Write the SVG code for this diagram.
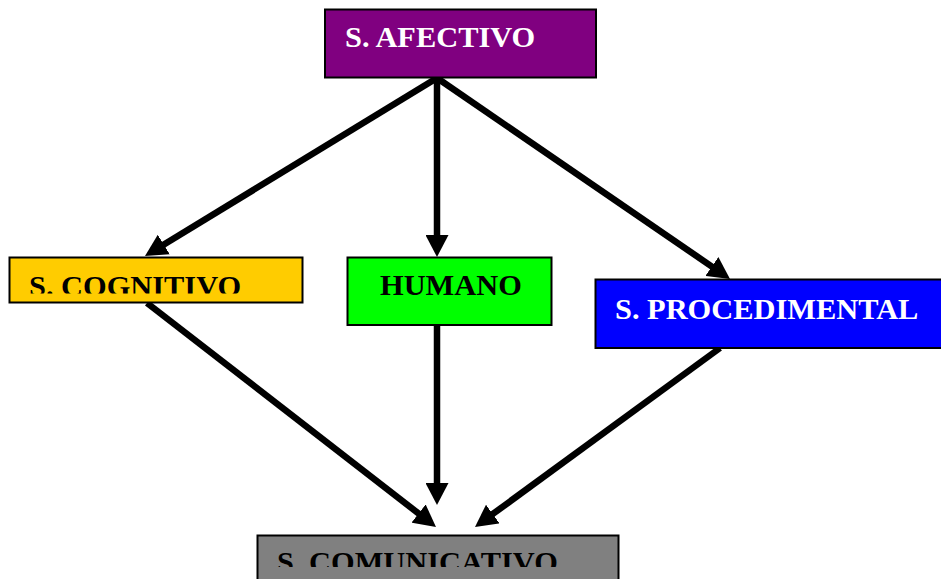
<svg xmlns="http://www.w3.org/2000/svg" width="941" height="579" viewBox="0 0 941 579">
<style>
.box{stroke:#000;stroke-width:2}
.lbl{font-family:"Liberation Serif","Times New Roman",serif;font-weight:bold;font-size:30.4px}
.conn{stroke:#000;stroke-width:6.5;fill:none}
</style>
<defs>
<marker id="ah" viewBox="0 0 22 23" refX="8" refY="11.5" markerWidth="22" markerHeight="23" markerUnits="userSpaceOnUse" orient="auto">
<path d="M0,0 L22,11.5 L0,23 z" fill="#000"/>
</marker>
<clipPath id="clipCog"><rect x="9" y="257" width="294" height="36.5"/></clipPath>
<clipPath id="clipCom"><rect x="257" y="535" width="362" height="32"/></clipPath>
</defs>
<rect width="941" height="579" fill="#fff"/>
<g id="connectors">
<line class="conn" x1="437" y1="78" x2="156.95" y2="248.71" marker-end="url(#ah)"/>
<line class="conn" x1="437" y1="78" x2="437" y2="243" marker-end="url(#ah)"/>
<line class="conn" x1="437" y1="78" x2="718.46" y2="271.08" marker-end="url(#ah)"/>
<line class="conn" x1="147" y1="303" x2="424.93" y2="518.42" marker-end="url(#ah)"/>
<line class="conn" x1="437" y1="325" x2="437" y2="491" marker-end="url(#ah)"/>
<line class="conn" x1="720" y1="348" x2="486.3" y2="518.74" marker-end="url(#ah)"/>
</g>
<g id="afectivo">
<rect class="box" x="325" y="9.5" width="271" height="68" fill="#800080"/>
<text class="lbl" x="345" y="47" fill="#fff">S. AFECTIVO</text>
</g>
<g id="cognitivo">
<rect class="box" x="9.5" y="257.5" width="293" height="45" fill="#FFCC00"/>
<text class="lbl" x="29" y="296" fill="#000" clip-path="url(#clipCog)">S. COGNITIVO</text>
</g>
<g id="humano">
<rect class="box" x="347.5" y="257.5" width="204" height="67.5" fill="#00FF00"/>
<text class="lbl" x="380" y="295" fill="#000">HUMANO</text>
</g>
<g id="procedimental">
<rect class="box" x="595.5" y="279.5" width="350" height="68.5" fill="#0000FF"/>
<text class="lbl" x="615" y="319" fill="#fff">S. PROCEDIMENTAL</text>
</g>
<g id="comunicativo">
<rect class="box" x="257.5" y="535.5" width="361" height="50" fill="#808080"/>
<text class="lbl" x="277" y="572" fill="#000" clip-path="url(#clipCom)">S. COMUNICATIVO</text>
</g>
</svg>
